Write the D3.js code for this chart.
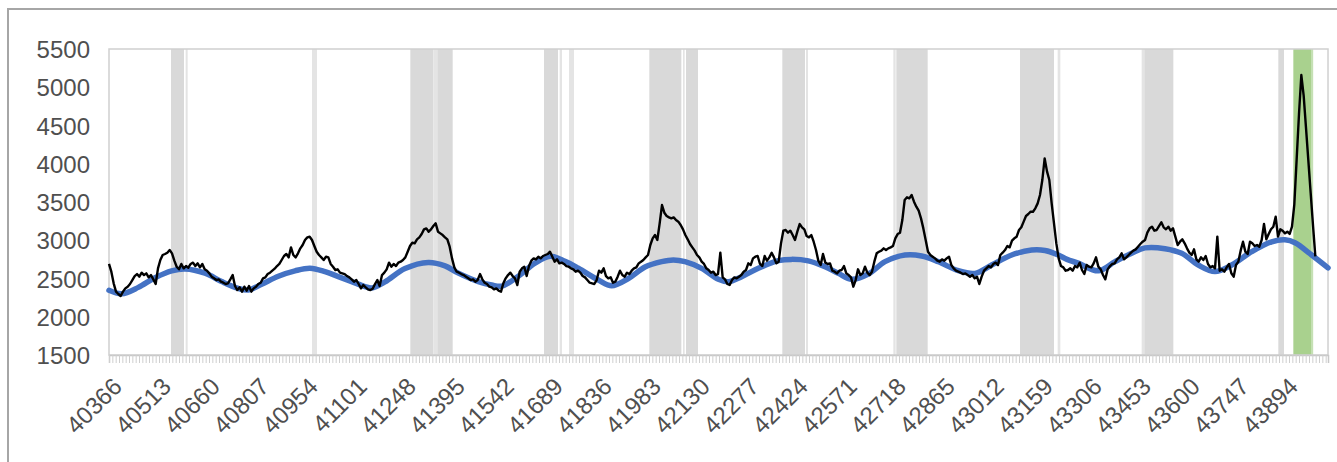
<!DOCTYPE html>
<html>
<head>
<meta charset="utf-8">
<script src="https://cdn.jsdelivr.net/npm/d3@7"></script>
<style>
  html, body { margin: 0; padding: 0; background: #ffffff; }
  svg { display: block; }
  text { font-family: "Liberation Sans", Arial, sans-serif; }
</style>
</head>
<body>
<script>
// ---------- DATA ----------
// x categories: day serial numbers (Excel dates)
const xStart = 40366;
const xEnd = 44023;
const xTickLabels = [40366, 40513, 40660, 40807, 40954, 41101, 41248, 41395, 41542, 41689,
  41836, 41983, 42130, 42277, 42424, 42571, 42718, 42865, 43012, 43159, 43306, 43453,
  43600, 43747, 43894];
const yTicks = [1500, 2000, 2500, 3000, 3500, 4000, 4500, 5000, 5500];

// observed series (black), one value every 7 days starting at xStart
const observedStep = 7;
const observedValues = [
  2690,2589,2437,2328,2297,2271,2328,2371,2393,2428,
  2480,2532,2558,2524,2576,2545,2567,2515,2545,2489,
  2428,2633,2742,2807,2820,2837,2872,2829,2733,2654,
  2620,2690,2633,2663,2641,2690,2707,2663,2698,2646,
  2690,2620,2602,2567,2524,2502,2480,2489,2458,2445,
  2428,2437,2489,2545,2402,2349,2384,2328,2393,2341,
  2402,2328,2371,2393,2428,2445,2502,2515,2558,2576,
  2602,2628,2663,2690,2742,2794,2820,2776,2907,2807,
  2776,2829,2894,2938,3003,3038,3046,3003,2925,2850,
  2807,2776,2742,2785,2776,2690,2654,2611,2620,2576,
  2567,2558,2532,2515,
  2489,2458,2480,2428,2371,2415,2384,2358,2349,2367,
  2428,2480,2402,2545,2576,2620,2707,2654,2690,2663,
  2707,2720,2742,2776,2850,2925,2968,2959,3012,3038,
  3081,3142,3155,3112,3142,3186,3221,3112,3090,3068,
  3038,3012,2916,2763,2646,2589,2576,2558,2545,2524,
  2502,2480,2489,2458,2480,2558,2489,2445,2428,2393,
  2384,2358,2371,2341,2328,2437,2502,2545,2576,2532,
  2502,2415,2589,2633,2654,2532,2663,2733,2763,2750,
  2785,2763,2794,2807,2820,2850,2785,2720,2750,2698,
  2707,2690,2663,2654,2633,2620,2589,2602,2576,2532,
  2515,2480,2445,
  2437,2428,2480,2602,2576,2633,2532,2502,2515,2445,
  2458,2524,2602,2545,2524,2576,2558,2602,2633,2646,
  2698,2720,2742,2776,2807,2938,3025,3068,3003,3221,
  3460,3360,3317,3299,3286,3299,3264,3243,3199,3142,
  3068,3012,2951,2907,2864,2807,2776,2720,2690,2633,
  2611,2576,2589,2545,2558,2837,2515,2489,2428,2415,
  2480,2515,2502,2524,2545,2589,2611,2698,2676,2763,
  2785,2794,2690,2663,2794,2733,2776,2837,2776,2698,
  2720,2959,3125,3134,3099,3125,3068,3003,3112,3212,
  3169,3142,3055,3038,3068,2981,2872,2733,2676,2820,
  2707,2690,2698,
  2602,2589,2567,2602,2611,2663,2567,2545,2515,2393,
  2480,2620,2545,2567,2654,2576,2545,2589,2720,2829,
  2850,2864,2894,2872,2894,2907,2925,3025,3081,3099,
  3264,3526,3561,3548,3591,3504,3439,3386,3286,3155,
  3003,2850,2807,2785,2763,2733,2720,2750,2733,2763,
  2785,2676,2633,2602,2589,2576,2558,2567,2545,2524,
  2545,2502,2524,2428,2524,2602,2633,2663,2646,2690,
  2707,2676,2807,2837,2872,2925,2907,2994,3025,3046,
  3134,3169,3243,3317,3343,3373,3373,3417,3482,3591,
  3787,4070,3900,3787,3482,3221,2959,2763,2663,2646,
  2602,2611,
  2633,2602,2663,2646,2707,2611,2559,2676,2655,2646,
  2698,2777,2655,2620,2546,2489,2620,2663,2690,2698,
  2751,2777,2829,2751,2777,2807,2838,2864,2881,2916,
  2951,2981,3003,3099,3156,3177,3125,3134,3186,3234,
  3169,3143,3177,3125,3156,3047,2938,2981,3012,2960,
  2894,2838,2807,2881,2751,2720,2777,2742,2794,2690,
  2646,2663,2633,3047,2602,2620,2589,2646,2690,2568,
  2524,2676,2720,2864,2981,2851,2820,2981,2960,2925,
  2938,2916,3003,3212,3012,3082,3143,3177,3308,3047,
  3143,3125,3090,3112,3082,3177,3470,4060,4650,5160,
  4890,4470,4045,3620,3195,2790
];

// seasonal baseline (blue), read at key days
const baselineDays = [
  40366,40404,40454,40504,40554,40594,40654,40704,40754,40784,
  40824,40874,40924,40969,41014,41054,41094,41134,41154,41194,
  41254,41324,41374,41414,41474,41514,41544,41594,41644,41689,
  41734,41774,41834,41874,41924,41974,42024,42059,42094,42144,
  42194,42224,42264,42314,42374,42414,42464,42514,42554,42594,
  42644,42694,42754,42804,42854,42914,42964,43014,43074,43134,
  43174,43214,43240,43274,43334,43384,43434,43474,43534,43584,
  43634,43684,43734,43794,43854,43894,43924,43974,44023
];
const baselineValues = [
  2345,2300,2384,2510,2600,2625,2570,2460,2370,2350,
  2425,2530,2600,2635,2590,2525,2460,2395,2375,2455,
  2630,2710,2665,2570,2460,2415,2400,2530,2700,2790,
  2725,2635,2480,2405,2500,2650,2720,2742,2720,2633,
  2490,2458,2524,2633,2733,2750,2730,2654,2567,2489,
  2558,2720,2807,2795,2720,2602,2567,2676,2807,2872,
  2866,2807,2750,2700,2600,2720,2830,2900,2890,2829,
  2676,2590,2676,2850,2980,3005,2968,2807,2640
];

// shaded periods [startDay, endDay, kind]
const periodStarts = [40552,40596,40975,41270,41339,41351,41671,41718,41746,41987,42088,42097,42386,42457,42719,42728,43099,43212,43464,43472,43874,43919,43974];
const periodEnds   = [40591,40602,40990,41339,41351,41397,41713,41725,41761,42083,42093,42133,42454,42463,42726,42822,43201,43220,43472,43559,43891,43974,43978];
const periodKinds  = ["g","t","t","g","t","g","g","t","t","g","t","g","g","t","t","g","g","t","t","g","g","c","ct"];

// ---------- CHART ----------
const W = 1337, H = 462;
const plot = { left: 109, right: 1328, top: 49, bottom: 355 };

const svg = d3.select("body").append("svg").attr("width", W).attr("height", H);
svg.append("rect").attr("width", W).attr("height", H).attr("fill", "#ffffff");

// outer chart frame (only left/top visible in the crop)
svg.append("rect").attr("x", 8).attr("y", 9).attr("width", 1345).attr("height", 470)
  .attr("fill", "none").attr("stroke", "#a6a6a6").attr("stroke-width", 2);

const x = d3.scaleLinear().domain([xStart, xEnd]).range([plot.left, plot.right]);
const y = d3.scaleLinear().domain([1500, 5500]).range([plot.bottom, plot.top]);

// shaded periods
const periods = periodStarts.map((s, i) => ({ s, e: periodEnds[i], k: periodKinds[i] }));
const fills = { g: "#d9d9d9", t: "#e4e4e4", c: "#a9d18e", ct: "#c5e0b4" };
svg.append("g").selectAll("rect").data(periods).join("rect")
  .attr("x", d => x(d.s))
  .attr("width", d => Math.max(1.5, x(d.e) - x(d.s)))
  .attr("y", plot.top)
  .attr("height", plot.bottom - plot.top)
  .attr("fill", d => fills[d.k]);

// plot area border
svg.append("rect").attr("x", plot.left).attr("y", plot.top)
  .attr("width", plot.right - plot.left).attr("height", plot.bottom - plot.top)
  .attr("fill", "none").attr("stroke", "#d0d0d0").attr("stroke-width", 1.5);

// minor category ticks along the bottom
const minorTicks = d3.range(xStart, xEnd, 10);
const minorAxis = d3.axisBottom(x).tickValues(minorTicks).tickSize(8).tickFormat("");
const gMinor = svg.append("g").attr("transform", `translate(0,${plot.bottom})`).call(minorAxis);
gMinor.select(".domain").attr("stroke", "#c8c8c8").attr("stroke-width", 1.5);
gMinor.selectAll(".tick line").attr("stroke", "#cfcfcf").attr("stroke-width", 1);

// x labels
const xAxis = d3.axisBottom(x).tickValues(xTickLabels).tickSize(0).tickFormat(d3.format("d"));
const gx = svg.append("g").attr("transform", `translate(0,${plot.bottom})`).call(xAxis);
gx.select(".domain").remove();
gx.selectAll(".tick text")
  .attr("fill", "#4f4f4f")
  .attr("font-size", 24)
  .attr("text-anchor", "end")
  .attr("dy", null)
  .attr("y", null)
  .attr("transform", "translate(14,33) rotate(-45)");

// y labels
const yAxis = d3.axisLeft(y).tickValues(yTicks).tickSize(0).tickPadding(0).tickFormat(d3.format("d"));
const gy = svg.append("g").attr("transform", `translate(90,0)`).call(yAxis);
gy.select(".domain").remove();
gy.selectAll(".tick text")
  .attr("fill", "#4f4f4f")
  .attr("font-size", 24)
  .attr("x", 0)
  .attr("dy", "0.36em");

// baseline (blue)
const baseline = baselineDays.map((d, i) => [d, baselineValues[i]]);
svg.append("path").datum(baseline)
  .attr("fill", "none").attr("stroke", "#4472c4").attr("stroke-width", 5.5)
  .attr("stroke-linejoin", "round").attr("stroke-linecap", "round")
  .attr("d", d3.line().x(d => x(d[0])).y(d => y(d[1])).curve(d3.curveCatmullRom.alpha(0.5)));

// observed (black)
const observed = observedValues.map((v, i) => [xStart + i * observedStep, v]);
svg.append("path").datum(observed)
  .attr("fill", "none").attr("stroke", "#000000").attr("stroke-width", 2.4)
  .attr("stroke-linejoin", "round")
  .attr("d", d3.line().x(d => x(d[0])).y(d => y(d[1])));
</script>
</body>
</html>
